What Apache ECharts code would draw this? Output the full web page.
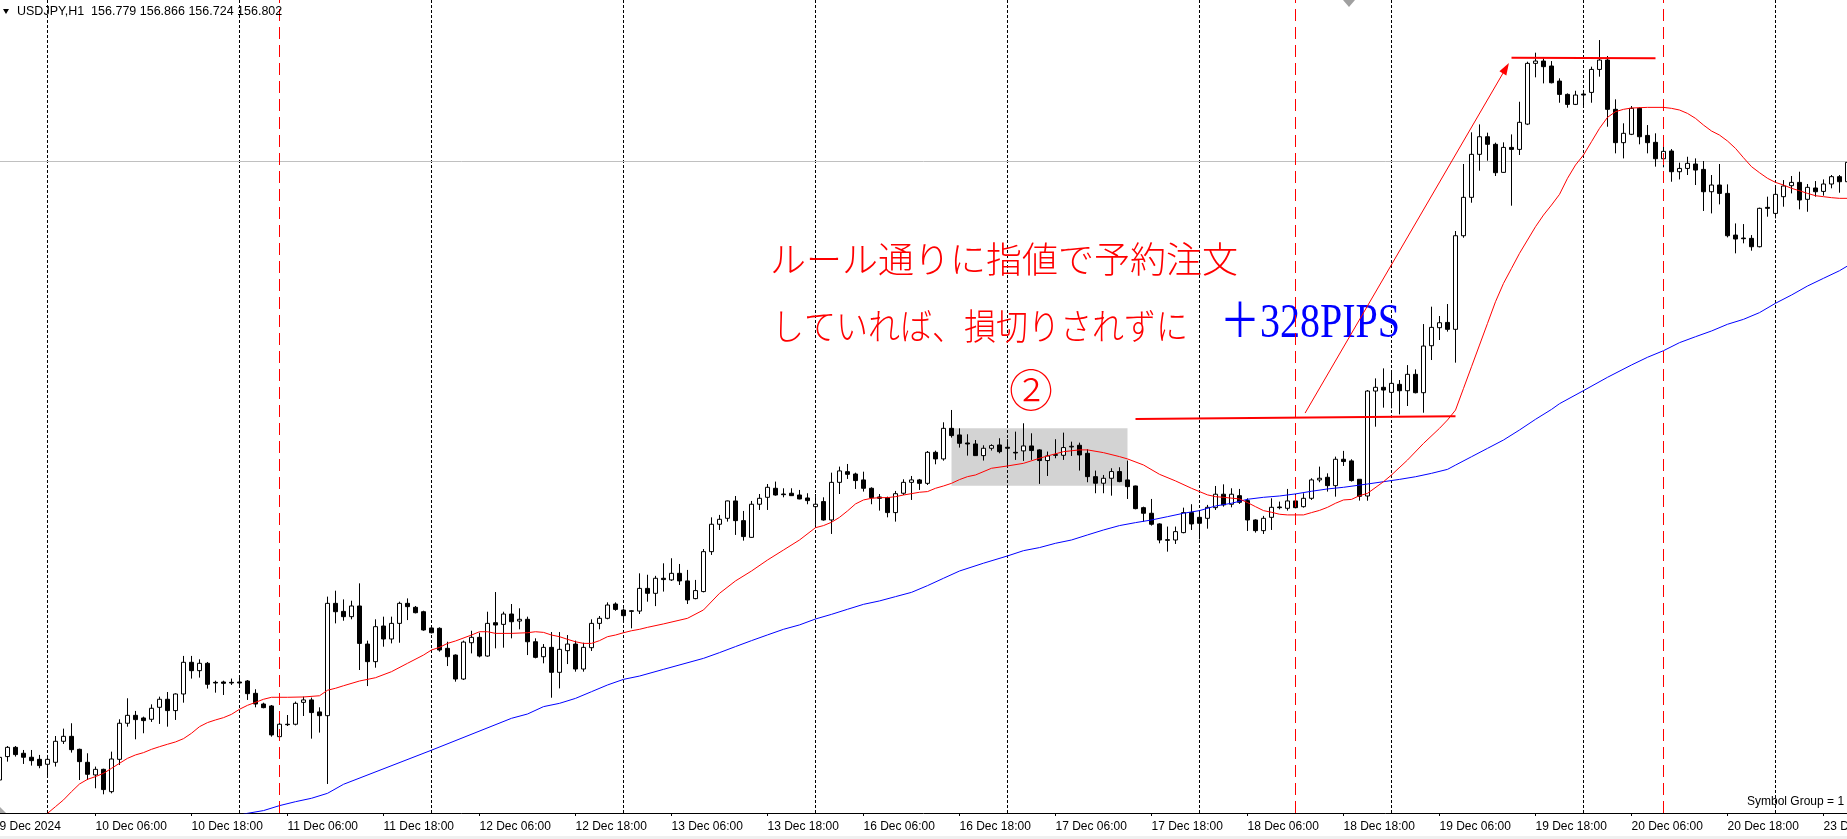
<!DOCTYPE html>
<html><head><meta charset="utf-8">
<script src="https://cdn.jsdelivr.net/npm/echarts@6/dist/echarts.min.js"></script>
<style>html,body{margin:0;padding:0;background:#fff;overflow:hidden}#c{width:1847px;height:839px}</style>
</head><body><div id="c"></div>
<script>
// ---- bar time categories (USDJPY H1); the chart continues past the right edge ----
const sessions = [['9 Dec',18,23],['10 Dec',0,23],['11 Dec',0,23],['12 Dec',0,23],['13 Dec',0,23],
  ['16 Dec',0,23],['17 Dec',0,23],['18 Dec',0,23],['19 Dec',0,23],['20 Dec',0,23],['23 Dec',0,22]];
const categories = [];
sessions.forEach(([d,h0,h1])=>{for(let h=h0;h<=h1;h++) categories.push(d+' '+String(h).padStart(2,'0')+':00');});

const tickLabels = ['9 Dec 2024','10 Dec 06:00','10 Dec 18:00','11 Dec 06:00','11 Dec 18:00','12 Dec 06:00',
  '12 Dec 18:00','13 Dec 06:00','13 Dec 18:00','16 Dec 06:00','16 Dec 18:00','17 Dec 06:00','17 Dec 18:00',
  '18 Dec 06:00','18 Dec 18:00','19 Dec 06:00','19 Dec 18:00','20 Dec 06:00','20 Dec 18:00','23 Dec 06:00'];
const tickEvery = 12;

// ---- OHLC (bar -1 .. bar 230) ----
const opens = [151.179,
151.392,151.476,151.422,151.386,151.367,151.322,151.340,151.531,151.576,151.458,
151.340,151.225,151.276,151.073,151.367,151.695,151.767,151.743,151.731,151.840,
151.913,151.810,151.961,152.249,152.173,152.240,152.067,152.070,152.067,152.070,
152.079,151.967,151.870,151.852,151.573,151.686,151.686,151.885,151.907,151.798,
151.764,152.785,152.712,152.664,152.761,152.415,152.255,152.579,152.461,152.603,
152.785,152.749,152.709,152.561,152.558,152.376,152.315,152.097,152.427,152.476,
152.306,152.609,152.594,152.688,152.624,152.640,152.436,152.300,152.385,152.158,
152.355,152.415,152.188,152.382,152.603,152.649,152.779,152.724,152.712,152.715,
152.921,152.876,153.013,152.998,153.058,152.989,152.828,152.892,153.255,153.504,
153.558,153.716,153.537,153.385,153.686,153.749,153.831,153.779,153.786,153.770,
153.743,153.664,153.710,153.543,153.885,153.982,153.961,153.907,153.831,153.752,
153.746,153.610,153.786,153.885,153.907,153.876,154.158,154.098,154.376,154.316,
154.243,154.234,154.128,154.195,154.225,154.204,154.158,154.171,154.216,154.180,
154.083,154.137,154.131,154.207,154.222,154.149,153.937,153.877,153.922,153.983,
153.907,153.852,153.655,153.604,153.507,153.364,153.361,153.428,153.610,153.567,
153.558,153.655,153.777,153.686,153.764,153.719,153.543,153.446,153.567,153.661,
153.649,153.716,153.664,153.740,153.907,153.931,153.855,154.095,154.080,153.913,
153.761,154.715,154.749,154.703,154.776,154.718,154.867,154.700,155.127,155.291,
155.339,155.276,156.127,156.476,156.867,157.027,156.958,156.703,156.930,156.912,
157.142,157.694,157.715,157.670,157.533,157.412,157.321,157.415,157.430,157.639,
157.724,157.276,156.973,157.049,157.285,157.039,156.976,156.827,156.897,156.709,
156.739,156.779,156.730,156.527,156.588,156.512,156.133,156.106,156.103,156.027,
156.385,156.330,156.482,156.582,156.612,156.458,156.561,156.530,156.597,156.664,
156.618];
const highs = [151.400,
151.488,151.488,151.452,151.452,151.407,151.407,151.579,151.646,151.695,151.464,
151.422,151.301,151.282,151.437,151.731,151.922,151.807,151.755,151.867,151.937,
151.979,151.967,152.307,152.307,152.276,152.252,152.082,152.082,152.101,152.113,
152.088,152.004,151.882,151.861,151.776,151.770,151.892,151.937,151.928,151.840,
152.846,152.900,152.821,152.809,152.967,152.446,152.640,152.664,152.664,152.800,
152.830,152.761,152.718,152.567,152.567,152.436,152.321,152.446,152.536,152.518,
152.709,152.888,152.709,152.779,152.740,152.664,152.467,152.415,152.524,152.524,
152.497,152.446,152.427,152.640,152.670,152.794,152.794,152.739,152.724,153.058,
153.045,153.035,153.149,153.195,153.143,153.089,152.998,153.279,153.567,153.589,
153.719,153.761,153.625,153.716,153.779,153.870,153.892,153.831,153.831,153.816,
153.786,153.779,153.749,153.973,154.028,154.052,153.973,153.982,153.840,153.779,
153.755,153.807,153.913,153.943,153.916,154.170,154.173,154.431,154.543,154.376,
154.322,154.270,154.222,154.231,154.286,154.277,154.346,154.422,154.331,154.186,
154.165,154.277,154.337,154.255,154.246,154.186,153.992,153.952,154.013,154.022,
154.083,153.855,153.664,153.734,153.513,153.483,153.483,153.655,153.686,153.619,
153.680,153.852,153.867,153.831,153.825,153.740,153.549,153.580,153.740,153.710,
153.825,153.780,153.786,153.922,154.028,153.967,154.119,154.171,154.095,153.913,
154.724,154.830,154.921,154.891,154.815,154.951,154.912,155.324,155.482,155.397,
155.506,156.170,156.779,157.067,157.139,157.064,156.973,156.976,157.048,157.345,
157.709,157.791,157.739,157.715,157.558,157.421,157.445,157.452,157.664,157.906,
157.761,157.367,157.149,157.306,157.294,157.133,157.058,156.936,156.915,156.791,
156.845,156.830,156.806,156.679,156.779,156.594,156.239,156.233,156.133,156.382,
156.482,156.567,156.633,156.670,156.709,156.597,156.624,156.639,156.679,156.679,
156.815];
const lows = [151.160,
151.346,151.392,151.325,151.310,151.286,151.216,151.301,151.507,151.428,151.179,
151.179,151.104,151.049,151.058,151.316,151.664,151.549,151.604,151.707,151.689,
151.664,151.725,151.882,152.101,152.110,152.010,151.973,151.952,152.043,152.037,
151.907,151.840,151.831,151.573,151.543,151.670,151.676,151.761,151.555,151.610,
151.143,152.603,152.627,152.640,152.179,152.033,152.200,152.391,152.421,152.427,
152.633,152.694,152.536,152.512,152.346,152.215,152.073,152.088,152.330,152.294,
152.300,152.376,152.382,152.467,152.549,152.315,152.285,152.240,151.927,152.012,
152.233,152.164,152.164,152.352,152.549,152.640,152.718,152.633,152.558,152.688,
152.800,152.760,152.892,152.989,152.952,152.779,152.822,152.885,153.225,153.452,
153.528,153.407,153.355,153.382,153.634,153.634,153.764,153.749,153.761,153.731,
153.686,153.498,153.537,153.416,153.779,153.916,153.825,153.801,153.686,153.628,
153.567,153.528,153.770,153.725,153.816,153.861,154.049,154.082,154.292,154.201,
154.128,154.125,154.083,154.174,154.149,154.043,154.089,154.080,154.089,153.871,
153.943,154.104,154.089,154.125,153.992,153.886,153.786,153.786,153.764,153.886,
153.734,153.640,153.528,153.492,153.331,153.255,153.325,153.422,153.452,153.367,
153.464,153.634,153.664,153.658,153.689,153.443,153.428,153.416,153.452,153.640,
153.628,153.649,153.655,153.725,153.886,153.801,153.755,154.034,153.892,153.719,
153.718,154.391,154.564,154.558,154.503,154.579,154.694,154.518,154.997,155.179,
155.255,154.973,156.109,156.427,156.718,156.809,156.670,156.700,156.400,156.861,
157.133,157.567,157.512,157.512,157.336,157.291,157.315,157.306,157.336,157.573,
157.118,156.876,156.830,157.042,156.958,156.876,156.755,156.749,156.618,156.639,
156.679,156.588,156.352,156.330,156.412,156.112,155.967,156.058,155.991,156.021,
156.300,156.285,156.391,156.512,156.367,156.345,156.482,156.491,156.558,156.518,
156.603];
const closes = [151.385,
151.476,151.410,151.386,151.355,151.310,151.367,151.531,151.576,151.455,151.346,
151.231,151.276,151.092,151.370,151.695,151.767,151.728,151.719,151.831,151.913,
151.810,151.961,152.249,152.173,152.240,152.049,152.061,152.058,152.061,152.061,
151.964,151.870,151.837,151.589,151.686,151.682,151.876,151.907,151.792,151.764,
152.785,152.709,152.664,152.761,152.421,152.255,152.573,152.461,152.603,152.785,
152.755,152.700,152.543,152.518,152.361,152.300,152.097,152.433,152.476,152.306,
152.603,152.588,152.688,152.618,152.640,152.436,152.294,152.385,152.158,152.367,
152.415,152.188,152.385,152.603,152.649,152.770,152.730,152.673,152.718,152.921,
152.876,153.013,153.001,153.058,152.989,152.816,152.901,153.255,153.504,153.549,
153.716,153.537,153.392,153.686,153.740,153.840,153.770,153.773,153.764,153.734,
153.719,153.686,153.543,153.885,153.989,153.958,153.901,153.831,153.746,153.740,
153.610,153.782,153.885,153.907,153.876,154.158,154.098,154.376,154.310,154.240,
154.234,154.128,154.195,154.219,154.164,154.195,154.152,154.216,154.174,154.083,
154.125,154.131,154.201,154.213,154.134,153.937,153.877,153.922,153.983,153.892,
153.846,153.646,153.604,153.504,153.361,153.358,153.437,153.610,153.507,153.513,
153.658,153.777,153.680,153.777,153.704,153.543,153.446,153.558,153.658,153.655,
153.716,153.655,153.740,153.907,153.922,153.855,154.095,154.074,153.901,153.758,
154.715,154.749,154.724,154.785,154.718,154.867,154.700,155.124,155.294,155.336,
155.276,156.127,156.476,156.867,157.027,156.958,156.700,156.930,156.912,157.158,
157.694,157.715,157.664,157.518,157.412,157.321,157.406,157.406,157.639,157.724,
157.276,156.973,157.058,157.285,157.027,156.973,156.827,156.894,156.709,156.739,
156.785,156.724,156.527,156.588,156.512,156.127,156.097,156.100,156.027,156.376,
156.376,156.503,156.579,156.612,156.452,156.567,156.527,156.597,156.664,156.618,
156.794];

// ---- moving averages: [bar, price] ----
const redMA = [[5,150.876],[6,150.937],[7,150.998],[8,151.073],[9,151.143],[10,151.185],[11,151.210],[12,151.240],
[13,151.285],[14,151.331],[15,151.376],[16,151.407],[17,151.428],[18,151.458],[19,151.482],[20,151.504],[21,151.525],
[22,151.555],[23,151.604],[24,151.664],[25,151.701],[26,151.725],[27,151.746],[28,151.776],[29,151.822],[30,151.858],
[31,151.885],[32,151.913],[33,151.931],[35,151.931],[37,151.934],[39,151.945],[40,151.995],[41,152.013],[42,152.036],
[44,152.079],[46,152.109],[48,152.164],[50,152.240],[52,152.315],[53,152.361],[54,152.385],[55,152.421],[56,152.443],
[58,152.497],[59,152.527],[60,152.527],[61,152.512],[63,152.512],[65,152.518],[66,152.527],[67,152.521],[68,152.497],
[69,152.482],[70,152.458],[71,152.436],[72,152.421],[73,152.421],[74,152.446],[75,152.482],[76,152.497],[77,152.518],
[78,152.536],[79,152.549],[80,152.567],[82,152.598],[85,152.649],[87,152.725],[89,152.876],[91,152.989],[93,153.079],
[95,153.179],[97,153.270],[99,153.361],[101,153.473],[102,153.492],[103,153.522],[104,153.567],[105,153.625],[106,153.689],
[107,153.725],[108,153.740],[109,153.746],[110,153.746],[111,153.755],[112,153.770],[114,153.795],[115,153.801],[116,153.831],
[117,153.852],[118,153.876],[119,153.910],[120,153.937],[121,153.952],[123,154.013],[125,154.034],[127,154.058],[129,154.104],
[130,154.125],[132,154.164],[134,154.180],[135,154.180],[137,154.155],[139,154.119],[140,154.098],[142,154.043],[144,153.958],
[146,153.898],[148,153.831],[150,153.771],[151,153.755],[152,153.749],[154,153.734],[155,153.701],[156,153.664],[157,153.628],
[158,153.613],[159,153.595],[160,153.589],[162,153.589],[163,153.610],[164,153.630],[165,153.658],[166,153.695],[167,153.725],
[168,153.730],[169,153.764],[170,153.785],[172,153.891],[173,153.952],[175,154.088],[177,154.239],[179,154.376],[180,154.452],
[181,154.542],[182,154.739],[183,154.936],[184,155.133],[185,155.330],[186,155.527],[187,155.694],[188,155.830],[189,155.967],
[190,156.088],[191,156.209],[192,156.315],[193,156.406],[194,156.503],[195,156.649],[196,156.770],[197,156.861],[198,156.982],
[199,157.103],[200,157.203],[201,157.255],[202,157.276],[203,157.288],[204,157.291],[205,157.294],[207,157.294],[208,157.285],
[209,157.270],[210,157.239],[211,157.194],[212,157.133],[213,157.079],[214,157.042],[215,156.988],[216,156.921],[217,156.836],
[218,156.755],[219,156.700],[220,156.649],[221,156.612],[222,156.588],[223,156.558],[224,156.536],[225,156.512],[226,156.491],
[227,156.482],[228,156.473],[229,156.467],[230,156.467]];
const blueMA = [[29.5,150.870],[32,150.901],[34,150.946],[36,150.982],[38,151.013],[40,151.058],[42,151.140],[53,151.450],
[63,151.740],[65,151.779],[67,151.846],[69,151.876],[71,151.921],[73,151.982],[75,152.043],[77,152.094],[79,152.124],
[82,152.185],[87,152.285],[89,152.337],[91,152.392],[93,152.446],[95,152.498],[97,152.549],[99,152.589],[101,152.643],
[103,152.685],[105,152.731],[107,152.776],[109,152.807],[111,152.846],[113,152.885],[115,152.946],[117,153.013],[119,153.079],
[122,153.150],[125,153.216],[127,153.264],[129,153.292],[131,153.331],[133,153.361],[135,153.407],[137,153.452],[139,153.492],
[141,153.519],[143,153.543],[145,153.573],[147,153.604],[149,153.628],[151,153.670],[153,153.695],[155,153.731],[157,153.749],
[159,153.761],[161,153.780],[163,153.804],[165,153.825],[167,153.840],[170,153.870],[172,153.891],[174,153.912],[176,153.936],
[178,153.967],[180,154.003],[181,154.042],[183,154.118],[185,154.194],[187,154.270],[189,154.361],[191,154.458],[193,154.548],
[194,154.600],[197,154.719],[200,154.840],[203,154.952],[205,155.022],[207,155.082],[209,155.155],[211,155.209],[213,155.261],
[215,155.322],[217,155.367],[219,155.428],[221,155.513],[223,155.588],[225,155.670],[227,155.740],[229,155.809],[230,155.852]];

// ---- chart objects ----
const bidPrice = 156.802;
const dayGridBars = [5,29,53,77,101,125,149,173,197,221];
const redVLineBars = [34,161,207];
const entryLine = [[141,154.460],[181,154.485]];
const topLine = [[188,157.745],[206,157.740]];
const arrowLine = [[162.2,154.515],[187.3,157.650]];
const rangeBox = [[118,154.376],[140,153.855]];

const NC = categories.length;        // category slots (bar -1 onward)
const BAR = 8, LEFT = -4.5, PLOT_H = 813;
const yMax = 158.27, yMin = yMax - PLOT_H / 110;

const candleData = opens.map((o,i)=>[o, closes[i], lows[i], highs[i]]);
const lat = "'Liberation Sans', Arial, sans-serif";
const jp = "'Noto Sans CJK JP', sans-serif";

const chart = echarts.init(document.getElementById('c'), null, {renderer:'canvas'});
chart.setOption({
  animation:false,
  backgroundColor:'#ffffff',
  grid:{left:LEFT, top:0, width:NC*BAR, height:PLOT_H, containLabel:false, outerBoundsMode:'none'},
  xAxis:[{
    type:'category', data:categories, boundaryGap:true,
    axisLine:{show:true, lineStyle:{color:'#000', width:1}},
    axisTick:{show:true, alignWithLabel:true, interval:(i)=>i%tickEvery===0, length:3, lineStyle:{color:'#000'}},
    axisLabel:{interval:(i)=>i%tickEvery===0, formatter:(v,i)=>(i%tickEvery===0 ? (tickLabels[i/tickEvery]||'') : ''),
      align:'left', margin:8, color:'#000', fontSize:12, fontFamily:lat, hideOverlap:false},
    splitLine:{show:false}
  },{
    type:'value', min:-1.5, max:NC-1.5, show:false
  }],
  yAxis:{type:'value', min:yMin, max:yMax, show:false},
  series:[
    {type:'line', xAxisIndex:1, data:[], silent:true,
      markArea:{silent:true, z:1, itemStyle:{color:'#D3D3D3'}, label:{show:false},
        data:[[{coord:rangeBox[0]},{coord:rangeBox[1]}]]}},
    {type:'line', xAxisIndex:1, data:[], silent:true,
      markLine:{silent:true, z:2, symbol:['none','none'], label:{show:false}, animation:false,
        data:dayGridBars.map(b=>({xAxis:b, lineStyle:{color:'#000', width:1, type:[3,2]}}))
          .concat([{yAxis:bidPrice, lineStyle:{color:'#C0C0C0', width:1, type:'solid'}}])}},
    {type:'candlestick', xAxisIndex:0, data:candleData, barWidth:4, z:3, silent:true,
      itemStyle:{color:'#ffffff', color0:'#000000', borderColor:'#000000', borderColor0:'#000000', borderWidth:1}},
    {type:'line', xAxisIndex:1, data:blueMA, showSymbol:false, symbol:'none', z:4, silent:true,
      lineStyle:{color:'#0000FF', width:1}},
    {type:'line', xAxisIndex:1, data:redMA, showSymbol:false, symbol:'none', z:4, silent:true,
      lineStyle:{color:'#FF0000', width:1}},
    {type:'line', xAxisIndex:1, data:[], silent:true,
      markLine:{silent:true, z:6, symbol:['none','none'], label:{show:false}, animation:false,
        data:redVLineBars.map(b=>({xAxis:b, lineStyle:{color:'#FF0000', width:1, type:[12,6]}})).concat([
          [{coord:entryLine[0], lineStyle:{color:'#FF0000', width:2, type:'solid'}},{coord:entryLine[1]}],
          [{coord:topLine[0], lineStyle:{color:'#FF0000', width:2, type:'solid'}},{coord:topLine[1]}],
          [{coord:arrowLine[0], symbol:'none', lineStyle:{color:'#FF0000', width:1, type:'solid'}},
           {coord:arrowLine[1], symbol:'triangle', symbolSize:[8,12], itemStyle:{color:'#FF0000'}}]
        ])}}
  ],
  graphic:[
    {type:'rect', z:10, shape:{x:0, y:836, width:1847, height:3}, style:{fill:'#f0f0f0'}},
    {type:'polygon', z:10, shape:{points:[[0,807],[0,813],[6,813]]}, style:{fill:'#a9a9a9'}},
    {type:'polygon', z:10, shape:{points:[[1343,0],[1355,0],[1349,7]]}, style:{fill:'#a0a0a0'}},
    {type:'polygon', z:10, shape:{points:[[3,9],[9,9],[6,14]]}, style:{fill:'#000'}},
    {type:'text', z:10, x:17, y:12, style:{text:'USDJPY,H1  156.779 156.866 156.724 156.802', font:'12.5px '+lat,
      fill:'#000', align:'left', verticalAlign:'middle'}},
    {type:'text', z:10, x:1747, y:802, style:{text:'Symbol Group = 1', font:'12px '+lat,
      fill:'#000', align:'left', verticalAlign:'middle'}},
    {type:'text', z:5, x:770, y:259, style:{text:'ルール通りに指値で予約注文', font:'300 36px '+jp,
      fill:'#FF0000', align:'left', verticalAlign:'middle'}},
    {type:'text', z:5, x:772, y:326, scaleY:1.12, style:{text:'していれば、損切りされずに', font:'300 32px '+jp,
      fill:'#FF0000', align:'left', verticalAlign:'middle'}},
    {type:'text', z:5, x:1220, y:324, scaleY:1.2, style:{text:'＋328PIPS', font:"40px 'Liberation Serif', 'Noto Sans CJK JP', serif",
      fill:'#0000FF', align:'left', verticalAlign:'middle'}},
    {type:'text', z:5, x:1031, y:390, style:{text:'②', font:'300 44px '+jp,
      fill:'#FF0000', align:'center', verticalAlign:'middle'}}
  ]
});
</script></body></html>
